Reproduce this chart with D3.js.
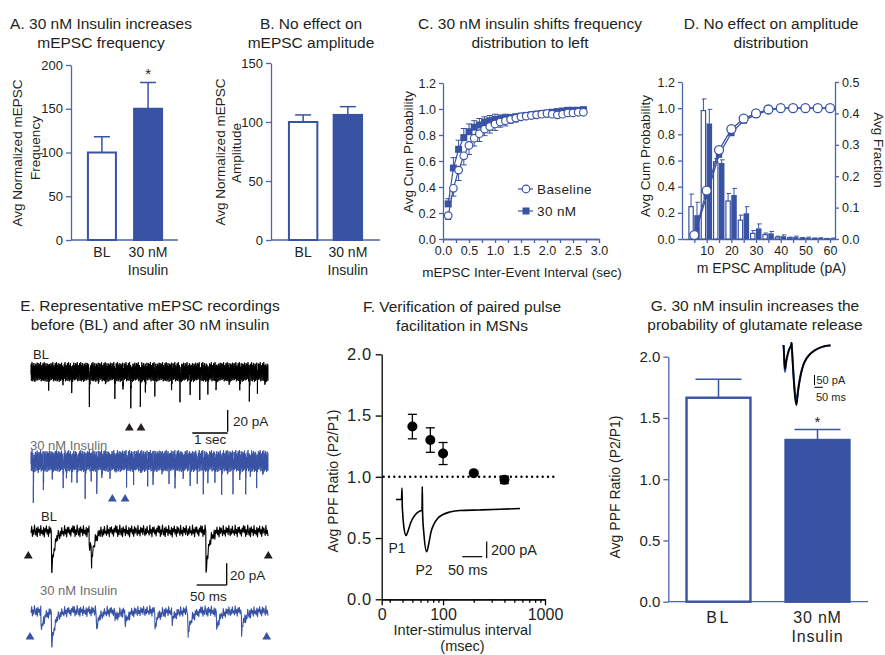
<!DOCTYPE html>
<html>
<head>
<meta charset="utf-8">
<script src="https://cdn.jsdelivr.net/npm/d3@7"></script>
<style>
  body { margin: 0; background: #fff; }
  svg { display: block; }
  text { font-family: "Liberation Sans", Arial, Helvetica, sans-serif; }
</style>
</head>
<body>
<svg id="fig" width="885" height="655"></svg>
<script>
// ---------------- data ----------------
const barLabels = [["BL"], ["30 nM", "Insulin"]];
const barKeys = ["BL", "Insulin"];
const freqMean = [100, 150];
const freqSem = [18, 30];
const freqTicks = [0, 50, 100, 150, 200];
const ampMean = [100, 106];
const ampSem = [6, 7];
const ampTicks = [0, 50, 100, 150];

const ieiSec = [0.1, 0.2, 0.3, 0.4, 0.5, 0.6, 0.7, 0.8, 0.9, 1.0, 1.1, 1.2, 1.3, 1.4,
  1.5, 1.6, 1.7, 1.8, 1.9, 2.0, 2.1, 2.2, 2.3, 2.4, 2.5, 2.6, 2.7];
const ieiBaseline = [0.18, 0.39, 0.53, 0.64, 0.72, 0.775, 0.81, 0.845, 0.865, 0.885, 0.90, 0.91,
  0.92, 0.93, 0.94, 0.945, 0.95, 0.955, 0.96, 0.965, 0.96, 0.955, 0.96, 0.97, 0.97, 0.975, 0.975];
const ieiBaselineSem = [0.03, 0.06, 0.08, 0.07, 0.07, 0.06, 0.06, 0.05, 0.05, 0.05, 0.04, 0.04,
  0.03, 0.03, 0.02, 0.02, 0.02, 0.02, 0.01, 0.01, 0.01, 0.01, 0.01, 0.01, 0.01, 0.01, 0.01];
const iei30 = [0.27, 0.546, 0.69, 0.78, 0.825, 0.86, 0.877, 0.90, 0.91, 0.92, 0.925, 0.93,
  0.935, 0.94, 0.945, 0.95, 0.955, 0.96, 0.965, 0.97, 0.975, 0.98, 0.985, 0.99, 0.99, 0.99, 0.995];
const iei30Sem = [0.04, 0.08, 0.07, 0.07, 0.06, 0.05, 0.05, 0.04, 0.04, 0.04, 0.03, 0.03,
  0.02, 0.02, 0.02, 0.01, 0.01, 0.01, 0.01, 0.01, 0.01, 0.01, 0.01, 0.01, 0.01, 0.01, 0.01];
const ieiXTicks = [0, 0.5, 1, 1.5, 2, 2.5, 3];
const ieiXMinor = [0.25, 0.75, 1.25, 1.75, 2.25, 2.75];
const cumTicks = [0, 0.2, 0.4, 0.6, 0.8, 1.0, 1.2];

const ampBins = [5, 10, 15, 20, 25, 30, 35, 40, 45, 50, 55, 60];
const fracBaseline = [0.103, 0.409, 0.246, 0.121, 0.06, 0.018, 0.014, 0.006, 0.004, 0.003, 0.002, 0.001];
const fracBaselineSem = [0.04, 0.037, 0.01, 0.024, 0.016, 0.009, 0.005, 0.003, 0.002, 0.002, 0.001, 0.001];
const frac30 = [0.076, 0.368, 0.242, 0.14, 0.082, 0.034, 0.018, 0.009, 0.006, 0.004, 0.003, 0.002];
const frac30Sem = [0.041, 0.045, 0.01, 0.021, 0.021, 0.014, 0.006, 0.004, 0.003, 0.002, 0.001, 0.001];
const cumAmpBaseline = [0.03, 0.37, 0.68, 0.84, 0.92, 0.96, 0.99, 1.0, 1.0, 1.0, 1.0, 1.0];
const cumAmp30 = [0.02, 0.33, 0.645, 0.81, 0.905, 0.95, 0.985, 1.0, 1.0, 1.0, 1.0, 1.0];
const fracTicks = [0, 0.1, 0.2, 0.3, 0.4, 0.5];
const ampXTicks = [10, 20, 30, 40, 50, 60];

// representative traces: events as [time, amplitude pA]
const noisePattern = [0.3, -0.8, 0.9, -0.2, 0.6, -1, 0.1, 0.7, -0.5, 0.95, -0.7, 0.2, -0.3, 0.8, -0.9,
  0.4, -0.1, 0.65, -0.6, 1, -0.4, 0.15, -0.85, 0.5, -0.25, 0.9, -0.75, 0.35, -0.55, 0.05, 0.75,
  -0.95, 0.45, -0.15, 0.85, -0.65, 0.25, -0.45, 0.6, -0.9, 0.1, 0.8, -0.35, 0.55, -0.8, 0.3,
  -0.05, 0.7, -1, 0.4, -0.3, 0.95, -0.6, 0.2, -0.7, 0.5, -0.2, 0.85, -0.5, 0.15, -0.9];
const blLongEvents = [[0.5, 14], [0.9, 12], [1.15, 23], [1.65, 26], [1.9, 13], [2.1, 15], [2.37, 23],
  [2.6, 12], [2.82, 37.5], [3.09, 36.6], [3.23, 24], [3.5, 14], [3.97, 23], [4.21, 27.4], [4.5, 13],
  [4.77, 22], [5.0, 14], [5.23, 23], [5.6, 12], [5.9, 15], [6.17, 33.5], [6.4, 13], [6.61, 18]];
const insLongEvents = [[0.065, 36.6], [0.2, 13], [0.35, 23.7], [0.6, 14], [0.91, 19], [1.0, 12],
  [1.15, 23.7], [1.3, 14], [1.53, 41.5], [1.7, 13], [1.86, 25.2], [2.0, 14], [2.23, 22], [2.4, 13],
  [2.7, 20.5], [2.9, 14], [3.1, 13], [3.3, 15], [3.45, 19], [3.7, 14], [3.9, 13], [4.07, 23.7],
  [4.3, 22], [4.5, 14], [4.7, 15], [4.87, 23.7], [5.0, 13], [5.2, 14], [5.39, 25.2], [5.55, 14],
  [5.71, 23.7], [5.9, 15], [6.07, 28.3], [6.2, 13], [6.38, 17.5], [6.55, 14]];
const blLongWindow = [2.78, 3.11];
const insLongWindow = [2.3, 2.66];
const blShortEvents = [[34.5, 37.5], [97, 18], [101, 21], [291.7, 37.5]];
const insShortEvents = [[16.7, 17], [34.5, 31], [109.5, 14], [140, 8], [156.7, 11], [206.7, 14],
  [235, 9], [262, 20], [309.5, 16], [351, 19]];

// PPF vs interval
const isiMs = [50, 75, 100, 200, 400];
const ppfRatio = [1.41, 1.30, 1.19, 1.03, 0.975];
const ppfSem = [0.10, 0.10, 0.09, 0.01, 0.03];
const ppfTicks = [0, 0.5, 1.0, 1.5, 2.0];
const isiMajor = [25, 100, 1000];
const isiMajorLabels = ["0", "100", "1000"];
const isiMinor = [30, 40, 50, 60, 70, 80, 90, 200, 300, 400, 500, 600, 700, 800, 900];
const ppfTraceT = [0, 13.75, 15, 15.75, 16.5, 20, 25, 30, 37.5, 47.5, 60, 65, 65.75, 66.5, 70,
  76.75, 81.25, 87.5, 95, 105, 117.5, 135, 160, 210, 260, 310];
const ppfTraceI = [106, 106, 244, 19, -44, -236, -326, -272, -164, -80, -32, -26, 259, -56, -320,
  -521, -440, -284, -188, -116, -74, -44, -26, -20, -12, -2];

// PPF bars
const ppfBarMean = [1.665, 1.32];
const ppfBarSem = [0.15, 0.085];
const gTraceT = [0, 3, 5, 9, 12, 15, 22, 30, 40, 46, 48, 50, 55, 62, 70, 77, 82, 88, 95, 105, 118,
  135, 155, 180, 210, 245, 280];
const gTraceBL = [0, -40, -85, -120, -105, -85, -55, -30, -10, 0, 12, -15, -90, -190, -270, -300,
  -270, -225, -185, -140, -100, -70, -48, -30, -16, -6, -2];
const gTraceIns = [0, -45, -95, -135, -118, -95, -62, -34, -12, 0, 10, -15, -85, -175, -250, -280,
  -255, -215, -178, -137, -100, -70, -48, -30, -16, -6, -2];

// ---------------- drawing ----------------
const svg = d3.select("#fig");
const FONT = "'Liberation Sans', Arial, Helvetica, sans-serif";
const BLUE = "#3953a4";
const AXIS = "#4d64ae";
const INK = "#231f20";

function addText(x, y, str, size, opts = {}) {
  const t = svg.append("text").attr("x", x).attr("y", y).attr("font-size", size)
    .attr("text-anchor", opts.anchor || "start").attr("fill", opts.fill || INK).text(str);
  if (opts.rotate) t.attr("transform", `rotate(${opts.rotate},${x},${y})`);
  if (opts.ls) t.attr("letter-spacing", opts.ls);
  return t;
}
function title(lines, cx, y0) {
  lines.forEach((s, i) => addText(cx, y0 + i * 18.5, s, 15.5, {anchor: "middle"}));
}
function styleAxis(g, color, size) {
  g.attr("font-family", FONT).attr("font-size", size);
  g.select(".domain").attr("stroke", color).attr("stroke-width", 1.3);
  g.selectAll(".tick line").attr("stroke", color).attr("stroke-width", 1.3);
  g.selectAll(".tick text").attr("fill", INK);
  return g;
}
function line(x1, y1, x2, y2, color, w) {
  return svg.append("line").attr("x1", x1).attr("y1", y1).attr("x2", x2).attr("y2", y2)
    .attr("stroke", color).attr("stroke-width", w);
}

// ---- bar panels (A, B, G) ----
function barPanel(o) {
  const x = d3.scaleBand().domain(barKeys).range(o.band).paddingInner(o.pi).paddingOuter(o.po);
  const y = d3.scaleLinear().domain(o.domain).range(o.yRange);
  styleAxis(svg.append("g").attr("transform", `translate(${o.axisX},0)`)
    .call(d3.axisLeft(y).tickValues(o.ticks).tickFormat(o.fmt).tickSize(o.tick)
      .tickSizeOuter(0).tickPadding(o.pad)), AXIS, o.tickFont);
  line(o.axisX, y(0), o.xEnd, y(0), AXIS, 1.3);
  barKeys.forEach((k, i) => {
    const cx = x(k) + x.bandwidth() / 2;
    line(cx, y(o.mean[i]), cx, y(o.mean[i] + o.sem[i]), BLUE, 1.5);
    line(cx - o.cap / 2, y(o.mean[i] + o.sem[i]), cx + o.cap / 2, y(o.mean[i] + o.sem[i]), BLUE, 1.5);
    svg.append("rect").attr("x", x(k) + o.sw / 2).attr("y", y(o.mean[i]))
      .attr("width", x.bandwidth() - o.sw).attr("height", y(0) - y(o.mean[i]))
      .attr("fill", i ? BLUE : "#fff").attr("stroke", BLUE).attr("stroke-width", o.sw);
    barLabels[i].forEach((s, j) => addText(cx, o.labelY + j * o.labelDy, s, o.labelFont,
      {anchor: "middle", ls: o.ls ? o.ls[i] : null}));
  });
  return {x, y};
}

// A
title(["A. 30 nM Insulin increases", "mEPSC frequency"], 101, 29);
const pA = barPanel({band: [80, 170], pi: 0.35, po: 0.15, domain: [0, 200], yRange: [240, 65],
  axisX: 71, xEnd: 178, ticks: freqTicks, fmt: d3.format("d"), tick: 5, pad: 3, tickFont: 13,
  mean: freqMean, sem: freqSem, cap: 16, sw: 2, labelY: 257, labelDy: 17.5, labelFont: 14});
addText(pA.x("Insulin") + pA.x.bandwidth() / 2, 79, "*", 15, {anchor: "middle"});
addText(22, 153, "Avg Normalized mEPSC", 13.5, {anchor: "middle", rotate: -90});
addText(39.5, 148, "Frequency", 13.5, {anchor: "middle", rotate: -90});

// B
title(["B.  No effect on", "mEPSC amplitude"], 311, 29);
barPanel({band: [279, 372], pi: 0.32, po: 0.2, domain: [0, 150], yRange: [240, 63],
  axisX: 271, xEnd: 380, ticks: ampTicks, fmt: d3.format("d"), tick: 5, pad: 3, tickFont: 13,
  mean: ampMean, sem: ampSem, cap: 16, sw: 2, labelY: 257, labelDy: 17.5, labelFont: 14});
addText(224.5, 152, "Avg Normalized mEPSC", 13.5, {anchor: "middle", rotate: -90});
addText(240.5, 153, "Amplitude", 13.5, {anchor: "middle", rotate: -90});

// ---- C: cumulative IEI ----
title(["C. 30 nM insulin shifts frequency", "distribution to left"], 530, 29);
{
  const x = d3.scaleLinear().domain([0, 3]).range([443, 599]);
  const y = d3.scaleLinear().domain([0, 1.2]).range([239, 83]);
  styleAxis(svg.append("g").attr("transform", "translate(443,0)")
    .call(d3.axisLeft(y).tickValues(cumTicks).tickFormat(d3.format(".1f")).tickSize(4)
      .tickSizeOuter(0).tickPadding(3)), AXIS, 12.5);
  styleAxis(svg.append("g").attr("transform", "translate(0,239)")
    .call(d3.axisBottom(x).tickValues(ieiXMinor).tickFormat("").tickSize(4).tickSizeOuter(0)), AXIS, 12.5);
  styleAxis(svg.append("g").attr("transform", "translate(0,239)")
    .call(d3.axisBottom(x).tickValues(ieiXTicks).tickFormat(d3.format(".1f")).tickSize(4)
      .tickSizeOuter(0).tickPadding(3)), AXIS, 12.5);
  addText(413, 152, "Avg Cum Probability", 13.5, {anchor: "middle", rotate: -90});
  addText(522, 276.5, "mEPSC Inter-Event Interval (sec)", 13.5, {anchor: "middle"});

  const ln = d3.line().x(d => x(d[0])).y(d => y(d[1]));
  ieiSec.forEach((t, i) => {
    line(x(t), y(iei30[i]), x(t), y(iei30[i] + iei30Sem[i]), BLUE, 1);
    line(x(t) - 3, y(iei30[i] + iei30Sem[i]), x(t) + 3, y(iei30[i] + iei30Sem[i]), BLUE, 1);
    line(x(t), y(ieiBaseline[i]), x(t), y(ieiBaseline[i] - ieiBaselineSem[i]), BLUE, 1);
    line(x(t) - 3, y(ieiBaseline[i] - ieiBaselineSem[i]), x(t) + 3, y(ieiBaseline[i] - ieiBaselineSem[i]), BLUE, 1);
  });
  svg.append("path").attr("d", ln(ieiSec.map((t, i) => [t, iei30[i]])))
    .attr("fill", "none").attr("stroke", BLUE).attr("stroke-width", 1.2);
  svg.selectAll(null).data(ieiSec).enter().append("rect")
    .attr("x", (t) => x(t) - 3.5).attr("y", (t, i) => y(iei30[i]) - 3.5)
    .attr("width", 7).attr("height", 7).attr("fill", BLUE);
  svg.append("path").attr("d", ln(ieiSec.map((t, i) => [t, ieiBaseline[i]])))
    .attr("fill", "none").attr("stroke", BLUE).attr("stroke-width", 1.2);
  svg.selectAll(null).data(ieiSec).enter().append("circle")
    .attr("cx", t => x(t)).attr("cy", (t, i) => y(ieiBaseline[i])).attr("r", 3.8)
    .attr("fill", "#fff").attr("stroke", BLUE).attr("stroke-width", 1.2);
  // legend
  line(518, 189, 533, 189, BLUE, 1.2);
  svg.append("circle").attr("cx", 526).attr("cy", 189).attr("r", 3.8).attr("fill", "#fff")
    .attr("stroke", BLUE).attr("stroke-width", 1.2);
  addText(537, 194, "Baseline", 13.5, {ls: 0.4});
  line(518, 211, 533, 211, BLUE, 1.2);
  svg.append("rect").attr("x", 522.5).attr("y", 207.5).attr("width", 7).attr("height", 7).attr("fill", BLUE);
  addText(537, 216, "30 nM", 13.5, {ls: 0.4});
}

// ---- D: amplitude distribution ----
title(["D. No effect on amplitude", "distribution"], 771, 29);
{
  const x = d3.scaleLinear().domain([0, 62]).range([682, 835]);
  const yL = d3.scaleLinear().domain([0, 1.2]).range([239, 82]);
  const yR = d3.scaleLinear().domain([0, 0.5]).range([239, 82]);
  styleAxis(svg.append("g").attr("transform", "translate(682,0)")
    .call(d3.axisLeft(yL).tickValues(cumTicks).tickFormat(d3.format(".1f")).tickSize(4)
      .tickSizeOuter(0).tickPadding(3)), AXIS, 12.5);
  styleAxis(svg.append("g").attr("transform", "translate(835,0)")
    .call(d3.axisRight(yR).tickValues(fracTicks).tickFormat(d3.format(".1f")).tickSize(4)
      .tickSizeOuter(0).tickPadding(3)), AXIS, 12.5);
  styleAxis(svg.append("g").attr("transform", "translate(0,239)")
    .call(d3.axisBottom(x).tickValues(ampBins).tickFormat(d => ampXTicks.includes(d) ? d : "")
      .tickSize(4).tickSizeOuter(0).tickPadding(3)), AXIS, 12.5);
  addText(649.5, 156, "Avg Cum Probability", 13.5, {anchor: "middle", rotate: -90});
  addText(874, 150, "Avg Fraction", 13.5, {anchor: "middle", rotate: 90});
  addText(771.5, 273, "m EPSC Amplitude (pA)", 14, {anchor: "middle"});

  const bw = x(2.25) - x(0);
  ampBins.forEach((b, i) => {
    const xo = x(b - 2.45), xf = x(b - 0.05);
    [[xo, fracBaseline[i], fracBaselineSem[i], 0], [xf, frac30[i], frac30Sem[i], 1]].forEach(([bx, v, s, f]) => {
      const cx = bx + bw / 2;
      line(cx, yR(v), cx, yR(v + s), BLUE, 1);
      line(cx - 1.5, yR(v + s), cx + 3, yR(v + s), BLUE, 1);
      svg.append("rect").attr("x", bx + (f ? 0 : 0.6)).attr("y", yR(v))
        .attr("width", bw - (f ? 0 : 1.2)).attr("height", Math.max(0.5, yR(0) - yR(v)))
        .attr("fill", f ? BLUE : "#fff").attr("stroke", f ? "none" : BLUE).attr("stroke-width", 1.2);
    });
  });
  const ln = d3.line().x(d => x(d[0])).y(d => yL(d[1]));
  svg.append("path").attr("d", ln(ampBins.map((b, i) => [b, cumAmp30[i]])))
    .attr("fill", "none").attr("stroke", BLUE).attr("stroke-width", 1.3);
  svg.selectAll(null).data(ampBins).enter().append("rect")
    .attr("x", b => x(b) - 3.2).attr("y", (b, i) => yL(cumAmp30[i]) - 3.2)
    .attr("width", 6.4).attr("height", 6.4).attr("fill", BLUE);
  svg.append("path").attr("d", ln(ampBins.map((b, i) => [b, cumAmpBaseline[i]])))
    .attr("fill", "none").attr("stroke", BLUE).attr("stroke-width", 1.3);
  svg.selectAll(null).data(ampBins).enter().append("circle")
    .attr("cx", b => x(b)).attr("cy", (b, i) => yL(cumAmpBaseline[i])).attr("r", 4.5)
    .attr("fill", "#fff").attr("stroke", BLUE).attr("stroke-width", 1.3);
}

// ---- E: representative traces ----
title(["E. Representative mEPSC recordings", "before (BL) and after 30 nM insulin"], 150, 311);
function drawTrace(o) {
  const x = d3.scaleLinear().domain([0, o.dur]).range([31, 268]);
  const y = d3.scaleLinear().domain([0, 20]).range([o.yc, o.yc + 21.7]);
  const n = Math.round(237 / o.step);
  let samples = d3.range(n + 1).map(i => [i / n * o.dur, i]);
  o.events.forEach(([t0]) => samples.push([t0, Math.floor(t0 / o.dur * n)]));
  samples.sort((a, b) => a[0] - b[0]);
  const pts = samples.map(([t, i]) => {
    let v = o.noise * noisePattern[i % noisePattern.length];
    o.events.forEach(([t0, a]) => { const d = t - t0; if (d >= 0) v += a * Math.exp(-d / o.tau); });
    return [x(t), y(v)];
  });
  svg.append("path").attr("d", d3.line()(pts)).attr("fill", "none")
    .attr("stroke", o.color).attr("stroke-width", o.w).attr("stroke-linejoin", "round");
  return {x, y};
}
function triangle(cx, cy, color) {
  svg.append("path").attr("d", d3.symbol(d3.symbolTriangle, 34)())
    .attr("transform", `translate(${cx},${cy})`).attr("fill", color);
}
const GRAY = "#6d6e71";
addText(33, 359, "BL", 13);
const tBL = drawTrace({dur: 6.7, yc: 372, step: 0.2, noise: 9, tau: 0.008, events: blLongEvents, color: "#000", w: 1});
blLongWindow.forEach(t => triangle(tBL.x(t), 428, "#231f20"));
line(tBL.x(5.56), 410, tBL.x(5.56), 410 + tBL.y(20) - tBL.y(0), "#000", 1.3);
line(tBL.x(4.56), 433, tBL.x(5.56), 433, "#000", 1.3);
addText(233, 426, "20 pA", 13.5);
addText(194, 444, "1 sec", 13.5);
addText(30, 450, "30 nM Insulin", 13, {fill: GRAY});
const tIns = drawTrace({dur: 6.7, yc: 461, step: 0.2, noise: 10, tau: 0.008, events: insLongEvents, color: BLUE, w: 1});
insLongWindow.forEach(t => triangle(tIns.x(t), 499, BLUE));

addText(41, 521, "BL", 13);
const tBL2 = drawTrace({dur: 395, yc: 531, step: 0.7, noise: 5.5, tau: 5, events: blShortEvents, color: "#000", w: 1.1});
triangle(28.3, 556, "#231f20");
triangle(268.3, 556, "#231f20");
line(226.7, 563.3, 226.7, 563.3 + (tBL2.y(20) - tBL2.y(0)), "#000", 1.3);
line(226.7 - (tBL2.x(50) - tBL2.x(0)), 585, 226.7, 585, "#000", 1.3);
addText(230, 580, "20 pA", 13.5);
addText(190, 601, "50 ms", 13.5);
addText(40, 595, "30 nM Insulin", 13, {fill: GRAY});
drawTrace({dur: 395, yc: 611, step: 0.7, noise: 5, tau: 6, events: insShortEvents, color: BLUE, w: 1.1});
triangle(30, 637, BLUE);
triangle(266.7, 637, BLUE);

// ---- F: PPF vs interval ----
title(["F. Verification of paired pulse", "facilitation in MSNs"], 462, 312);
{
  const x = d3.scaleLog().domain([25, 1000]).range([381.7, 545]);
  const y = d3.scaleLinear().domain([0, 2]).range([599.3, 354.3]);
  styleAxis(svg.append("g").attr("transform", "translate(381.7,0)")
    .call(d3.axisLeft(y).tickValues(ppfTicks).tickFormat(d3.format(".1f")).tickSize(6)
      .tickSizeOuter(0).tickPadding(4)), "#000", 16.5).attr("letter-spacing", 0.6);
  styleAxis(svg.append("g").attr("transform", "translate(0,599.3)")
    .call(d3.axisBottom(x).tickValues(isiMinor).tickFormat("").tickSize(3.5).tickSizeOuter(0)), "#000", 16);
  styleAxis(svg.append("g").attr("transform", "translate(0,599.3)")
    .call(d3.axisBottom(x).tickValues(isiMajor).tickFormat((d, i) => isiMajorLabels[i]).tickSize(6)
      .tickSizeOuter(0).tickPadding(3)), "#000", 16);
  addText(338, 481, "Avg PPF Ratio (P2/P1)", 14, {anchor: "middle", rotate: -90});
  addText(462.5, 635, "Inter-stimulus interval", 14.5, {anchor: "middle"});
  addText(462.5, 651, "(msec)", 14.5, {anchor: "middle"});

  svg.append("line").attr("x1", x(25) + 2).attr("x2", 555).attr("y1", y(1)).attr("y2", y(1))
    .attr("stroke", "#000").attr("stroke-width", 2.4).attr("stroke-linecap", "round")
    .attr("stroke-dasharray", "0,5.3");
  isiMs.forEach((t, i) => {
    line(x(t), y(ppfRatio[i] - ppfSem[i]), x(t), y(ppfRatio[i] + ppfSem[i]), "#000", 1.3);
    [-1, 1].forEach(s => line(x(t) - 4.5, y(ppfRatio[i] + s * ppfSem[i]), x(t) + 4.5, y(ppfRatio[i] + s * ppfSem[i]), "#000", 1.3));
    svg.append("circle").attr("cx", x(t)).attr("cy", y(ppfRatio[i])).attr("r", 5).attr("fill", "#000");
  });
  // example trace
  const tx = d3.scaleLinear().domain([0, 50]).range([396, 416]);
  const ty = d3.scaleLinear().domain([0, 200]).range([508.3, 491.6]);
  svg.append("path").attr("d", d3.line().curve(d3.curveMonotoneX)(ppfTraceT.map((t, i) => [tx(t), ty(ppfTraceI[i])])))
    .attr("fill", "none").attr("stroke", "#000").attr("stroke-width", 1.6);
  addText(397, 553, "P1", 14, {anchor: "middle"});
  addText(424, 575, "P2", 14, {anchor: "middle"});
  line(462.3, 556.7, 462.3 + tx(50) - tx(0), 556.7, "#000", 1.2);
  line(486.7, 558.3, 486.7, 558.3 - (ty(0) - ty(200)), "#000", 1.2);
  addText(491, 555, "200 pA", 14.5);
  addText(448, 575, "50 ms", 14.5);
}

// ---- G: PPF bars ----
title(["G. 30 nM insulin increases the", "probability of glutamate release"], 755, 311);
const pG = barPanel({band: [668, 868], pi: 0.33, po: 0.175, domain: [0, 2], yRange: [601.7, 356.7],
  axisX: 668.3, xEnd: 868, ticks: ppfTicks, fmt: d3.format(".1f"), tick: 5, pad: 3, tickFont: 15,
  mean: ppfBarMean, sem: ppfBarSem, cap: 46, sw: 2.4, labelY: 623, labelDy: 18.5, labelFont: 16,
  ls: [2.5, 0.8]});
addText(pG.x("Insulin") + pG.x.bandwidth() / 2, 427, "*", 15, {anchor: "middle"});
addText(620, 487, "Avg PPF Ratio (P2/P1)", 14, {anchor: "middle", rotate: -90});
{
  const tx = d3.scaleLinear().domain([0, 50]).range([783.5, 791.9]);
  const ty = d3.scaleLinear().domain([0, 50]).range([345, 335]);
  const ln = d3.line().curve(d3.curveMonotoneX);
  svg.append("path").attr("d", ln(gTraceT.map((t, i) => [tx(t), ty(gTraceIns[i])])))
    .attr("fill", "none").attr("stroke", BLUE).attr("stroke-width", 2);
  svg.append("path").attr("d", ln(gTraceT.map((t, i) => [tx(t), ty(gTraceBL[i])])))
    .attr("fill", "none").attr("stroke", "#000").attr("stroke-width", 1.8);
  line(814.5, 375, 814.5, 375 + (ty(0) - ty(50)), "#000", 1);
  line(814.5, 387.3, 814.5 + tx(50) - tx(0), 387.3, "#000", 1);
  addText(816.5, 384, "50 pA", 11);
  addText(816, 401, "50 ms", 11);
}
</script>
</body>
</html>
